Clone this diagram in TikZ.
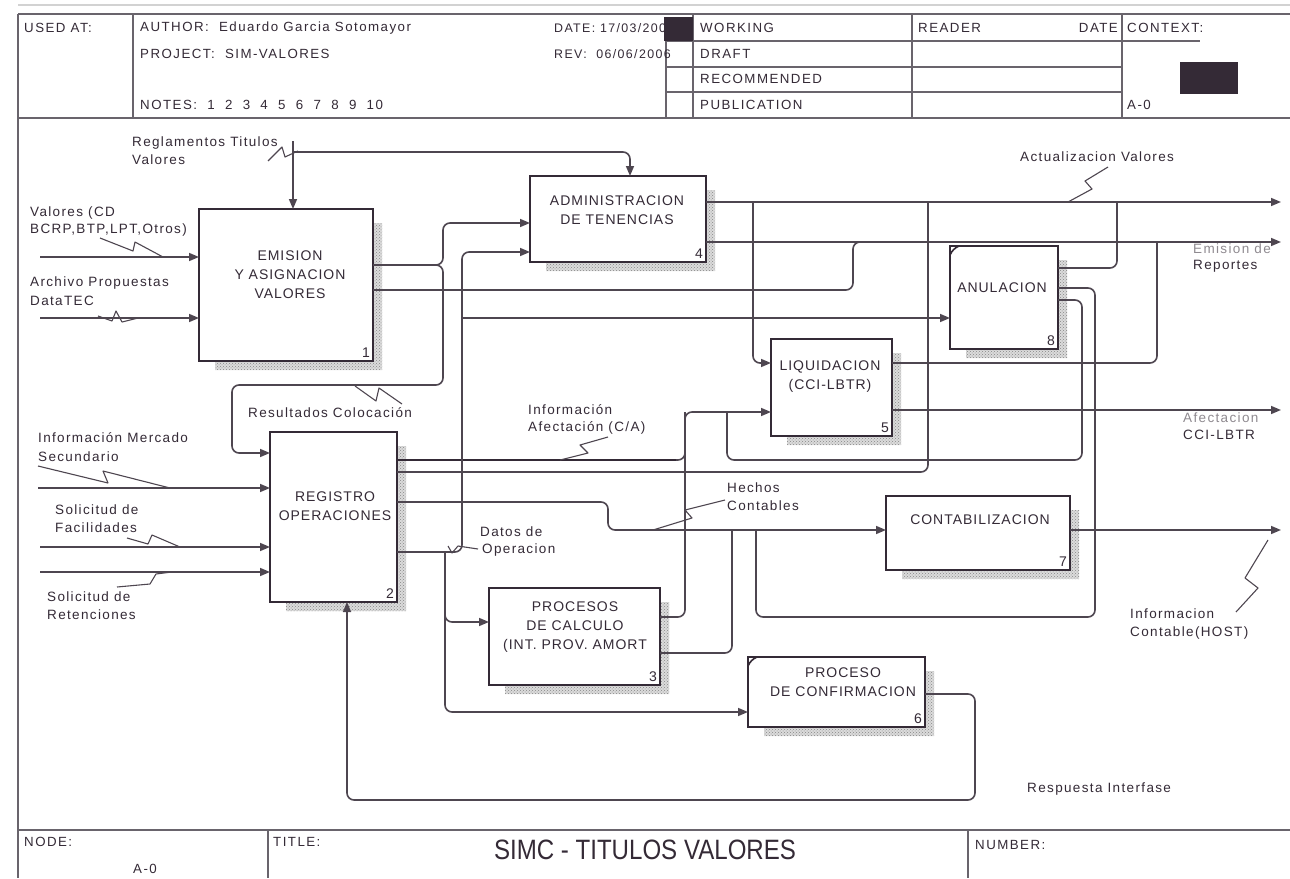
\documentclass[tikz,border=0pt]{standalone}
\usepackage{fontspec}
\setmainfont{Liberation Sans}
\newfontfamily\hdrfont[LetterSpace=11]{Liberation Sans}
\newfontfamily\labfont[LetterSpace=10]{Liberation Sans}
\newfontfamily\boxfont[LetterSpace=7]{Liberation Sans}
\usetikzlibrary{arrows.meta,patterns,calc,backgrounds}
\definecolor{ink}{RGB}{52,42,54}
\definecolor{wirec}{RGB}{78,70,80}
\definecolor{framec}{RGB}{105,100,108}
\tikzset{
  box/.style={draw=ink, line width=2.6pt, fill=white, inner sep=0pt, outer sep=0pt},
  wire/.style={draw=wirec, line width=1.6pt, rounded corners=7pt},
  flow/.style={wire, -{Triangle[length=10pt,width=8pt]}},
  zig/.style={draw=wirec, line width=1.1pt, line join=round},
  lab/.style={anchor=west, inner sep=0pt, text=ink, font=\labfont\fontsize{13.5}{15}\selectfont},
  boxtxt/.style={align=center, inner sep=0pt, text=ink, font=\boxfont\fontsize{14}{19}\selectfont},
  num/.style={anchor=south east, inner sep=0pt, text=ink, font=\fontsize{14}{15}\selectfont},
  hdr/.style={anchor=west, inner sep=0pt, text=ink, font=\hdrfont\fontsize{13.3}{15}\selectfont},
  rule/.style={draw=framec, line width=1.3pt},
  shadowfill/.style={fill=gray!28},
  shadow/.style={pattern=crosshatch dots, pattern color=gray!95},
}
\begin{document}
\begin{tikzpicture}[x=1pt,y=-1pt]
\useasboundingbox (0,0) rectangle (1290,878);

% ---------- header frame ----------
\draw[gray!35, line width=1.5pt] (18,5) -- (1290,5);
\draw[rule] (18,14) -- (1290,14);
\draw[rule] (18,118) -- (1290,118);
\draw[rule] (18,14) -- (18,878);
\draw[rule] (133,14) -- (133,118);
\draw[rule] (666,41) -- (666,118);
\draw[rule] (693,14) -- (693,118);
\draw[rule] (912,14) -- (912,118);
\draw[rule] (1122,14) -- (1122,118);
\foreach \yy in {41,67,92} \draw[rule] (666,\yy) -- (1122,\yy);
\draw[rule] (1122,41) -- (1200,41);

\node[hdr] (usedat) at (24,28) {USED AT:};
\node[hdr] (author) at (140,28) {AUTHOR:\ \ Eduardo Garcia Sotomayor};
\node[hdr] (project) at (140,54) {PROJECT:\ \ SIM-VALORES};
\node[hdr] (notes) at (140,105) {NOTES:\ \ 1\ \ 2\ \ 3\ \ 4\ \ 5\ \ 6\ \ 7\ \ 8\ \ 9\ \ 10};
\node[hdr, font=\hdrfont\fontsize{12.4}{14}\selectfont] (date) at (554,28) {DATE: 17/03/2006};
\node[hdr, font=\hdrfont\fontsize{12.4}{14}\selectfont] (rev) at (554,54) {REV:\ \ 06/06/2006};
\fill[ink] (664,17) rectangle (693,41);
\node[hdr] (working) at (700,28) {WORKING};
\node[hdr] (draft) at (700,54) {DRAFT};
\node[hdr] (recom) at (700,79) {RECOMMENDED};
\node[hdr] (publ) at (700,105) {PUBLICATION};
\node[hdr] (reader) at (918,28) {READER};
\node[hdr, anchor=east] (rdate) at (1118,28) {DATE};
\node[hdr] (context) at (1127,28) {CONTEXT:};
\fill[ink] (1180,62) rectangle (1238,94);
\node[hdr] (ctxnode) at (1127,105) {A-0};

% ---------- footer frame ----------
\draw[rule] (18,830) -- (1290,830);
\draw[rule] (268,830) -- (268,878);
\draw[rule] (968,830) -- (968,878);
\node[hdr] (nodelbl) at (24,842) {NODE:};
\node[hdr] (titlelbl) at (273,842) {TITLE:};
\node[hdr] (numlbl) at (975,845) {NUMBER:};
\node[hdr, anchor=center] (nodeval) at (145,869) {A-0};
\node[inner sep=0pt, text=ink, font=\fontsize{28}{30}\selectfont] (title) at (645,850) {\scalebox{0.86}[1]{SIMC - TITULOS VALORES}};

% ---------- activity boxes ----------
\node[box, minimum width=174pt, minimum height=152pt] (b1) at (286,285) {};
\node[box, minimum width=176pt, minimum height=86pt] (b4) at (618,219) {};
\node[box, minimum width=108pt, minimum height=103pt] (b8) at (1004,297.5) {};
\node[box, minimum width=121pt, minimum height=97pt] (b5) at (831.5,387.5) {};
\node[box, minimum width=127pt, minimum height=170pt] (b2) at (333.5,517) {};
\node[box, minimum width=184pt, minimum height=74pt] (b7) at (978,533) {};
\node[box, minimum width=171pt, minimum height=97pt] (b3) at (574.5,636.5) {};
\node[box, minimum width=177pt, minimum height=70pt] (b6) at (836.5,692) {};

% drop shadows behind the boxes
\begin{scope}[on background layer]
  \fill[white] (0,0) rectangle (1290,878);
  \foreach \b in {b1,b4,b8,b5,b2,b7,b3,b6}{
    \fill[shadowfill] ($(\b.north east)+(-4,14)$) rectangle ($(\b.south east)+(9,9)$)
                  ($(\b.south west)+(16,-4)$) rectangle ($(\b.south east)+(9,9)$);
    \fill[shadow] ($(\b.north east)+(-4,14)$) rectangle ($(\b.south east)+(9,9)$)
                  ($(\b.south west)+(16,-4)$) rectangle ($(\b.south east)+(9,9)$);
  }
\end{scope}

\node[boxtxt] (t1) at (290,275) {EMISION\\Y ASIGNACION\\VALORES};
\node[boxtxt] (t4) at (617,210) {ADMINISTRACION\\DE TENENCIAS};
\node[boxtxt] (t8) at (1002,288) {ANULACION};
\node[boxtxt] (t5) at (830,377) {LIQUIDACION\\(CCI-LBTR)};
\node[boxtxt] (t2) at (335,506) {REGISTRO\\OPERACIONES};
\node[boxtxt] (t7) at (980,520) {CONTABILIZACION};
\node[boxtxt] (t3) at (575,627) {PROCESOS\\DE CALCULO\\(INT. PROV. AMORT};
\node[boxtxt] (t6) at (843,682) {PROCESO\\DE CONFIRMACION};

\node[num] (n1) at ($(b1.south east)+(-3,-3)$) {1};
\node[num] (n4) at ($(b4.south east)+(-3,-3)$) {4};
\node[num] (n8) at ($(b8.south east)+(-3,-3)$) {8};
\node[num] (n5) at ($(b5.south east)+(-3,-3)$) {5};
\node[num] (n2) at ($(b2.south east)+(-3,-3)$) {2};
\node[num] (n7) at ($(b7.south east)+(-3,-3)$) {7};
\node[num] (n3) at ($(b3.south east)+(-3,-3)$) {3};
\node[num] (n6) at ($(b6.south east)+(-3,-3)$) {6};

% corner marks of the leaf activities
\draw[ink, line width=1.6pt] ($(b8.north west)+(0,9)$) to[bend left=20] ($(b8.north west)+(9,0)$);
\draw[ink, line width=1.6pt] ($(b6.north west)+(0,9)$) to[bend left=20] ($(b6.north west)+(9,0)$);

% ---------- controls ----------
\coordinate (rg) at (293,152);
\draw[wire] (293,141) -- (rg);
\draw[flow] (rg) -- (b1.north -| rg);
\draw[flow] (rg) -| (b4.north -| 630,0);

% ---------- external inputs ----------
\coordinate (vin) at (40,257);
\coordinate (ain) at (40,318);
\coordinate (imin) at (38,488);
\coordinate (sfin) at (40,547);
\coordinate (srin) at (40,572);
\draw[flow] (vin) -- (b1.west |- vin);
\draw[flow] (ain) -- (b1.west |- ain);
\draw[flow] (imin) -- (b2.west |- imin);
\draw[flow] (sfin) -- (b2.west |- sfin);
\draw[flow] (srin) -- (b2.west |- srin);

% ---------- outputs of EMISION ----------
\draw[flow] (b1.east |- 0,265) -| (443,223) -- (b4.west |- 0,223);
\draw[flow] (b1.east |- 0,265) -| (443,385) -| (232,453) -- (b2.west |- 0,453);
\draw[wire] (b1.east |- 0,290) -| (853,242) -- (872,242);

% ---------- external outputs ----------
\coordinate (actout) at (1281,202);
\coordinate (repout) at (1281,242);
\coordinate (afout) at (1281,410);
\coordinate (icout) at (1281,530);
\draw[flow] (b4.east |- actout) -- (actout);
\draw[flow] (b4.east |- repout) -- (repout);
\draw[flow] (b5.east |- afout) -- (afout);
\draw[flow] (b7.east |- icout) -- (icout);

% ---------- internal flows ----------
\coordinate (j1) at (753,202);
\draw[flow] (j1) |- (b5.west |- 0,363);
\draw[wire] (b2.east |- 0,472) -| (928,202);
\draw[wire] (b8.east |- 0,268) -| (1117,202);
\draw[wire] (b5.east |- 0,363) -| (1157,242);
\draw[flow] (b2.east |- 0,460) -| (685,412) -- (b5.west |- 0,412);
\draw[draw=ink, line width=2.1pt] (b2.east |- 0,460) -- (676,460);
\draw[wire] (b3.east |- 0,617) -| (685,412);
\draw[wire] (b8.east |- 0,300) -| (1082,460) -| (727,412);
\draw[flow] (b2.east |- 0,502) -| (608,530) -- (b7.west |- 0,530);
\draw[wire] (b3.east |- 0,653) -| (732,530);
\draw[wire] (b8.east |- 0,288) -| (1095,617) -| (756,530);
\draw[flow] (b2.east |- 0,552) -| (462,252) -- (b4.west |- 0,252);
\coordinate (j2) at (462,318);
\draw[flow] (j2) -- (b8.west |- j2);
\coordinate (j3) at (445,552);
\draw[flow] (j3) |- (b3.west |- 0,622);
\draw[flow] (j3) |- (b6.west |- 0,712);
\draw[flow] (b6.east |- 0,694) -| (975,800) -| (b2.south -| 347,0);

% ---------- arrow labels and their squiggles ----------
\node[lab] (lreg) at (132,143) {Reglamentos Titulos};
\node[lab] (lreg2) at (132,160) {Valores};
\draw[zig] (268,161) -- (282,147) -- (285,157) -- (298,151);

\node[lab] (lval) at (30,213) {Valores (CD};
\node[lab] (lval2) at (30,230) {BCRP,BTP,LPT,Otros)};
\draw[zig] (100,238) -- (133,251) -- (135,242) -- (163,257);

\node[lab] (larch) at (30,283) {Archivo Propuestas};
\node[lab] (larch2) at (30,301) {DataTEC};
\draw[zig] (98,316) -- (112,321) -- (116,311) -- (122,322) -- (138,318);

\node[lab] (lres) at (248,413) {Resultados Colocación};
\draw[zig] (355,386) -- (376,401) -- (379,388) -- (402,404);

\node[lab] (lim) at (38,438) {Información Mercado};
\node[lab] (lim2) at (38,457) {Secundario};
\draw[zig] (38,466) -- (108,483) -- (103,471) -- (170,488);

\node[lab] (lsf) at (55,510) {Solicitud de};
\node[lab] (lsf2) at (55,528) {Facilidades};
\draw[zig] (127,538) -- (148,544) -- (152,535) -- (180,547);

\node[lab] (lsr) at (47,597) {Solicitud de};
\node[lab] (lsr2) at (47,615) {Retenciones};
\draw[zig] (117,587) -- (150,584) -- (156,574) -- (172,572);

\node[lab] (lia) at (528,410) {Información};
\node[lab] (lia2) at (528,428) {Afectación (C/A)};
\draw[zig] (608,437) -- (580,445) -- (588,453) -- (560,460);

\node[lab] (ldo) at (480,532) {Datos de};
\node[lab] (ldo2) at (482,550) {Operacion};
\draw[zig] (478,549) -- (458,546) -- (452,553) -- (448,546);

\node[lab] (lhc) at (727,488) {Hechos};
\node[lab] (lhc2) at (727,506) {Contables};
\draw[zig] (725,500) -- (685,510) -- (692,518) -- (653,530);

\node[lab] (lact) at (1020,157) {Actualizacion Valores};
\draw[zig] (1108,167) -- (1085,181) -- (1092,189) -- (1068,202);

\node[lab, text=ink!55] (lrep) at (1193,249) {Emision de};
\node[lab] (lrep2) at (1193,266) {Reportes};

\node[lab, text=ink!55] (laf) at (1183,418) {Afectacion};
\node[lab] (laf2) at (1183,435) {CCI-LBTR};

\node[lab] (lic) at (1130,614) {Informacion};
\node[lab] (lic2) at (1130,633) {Contable(HOST)};
\draw[zig] (1268,540) -- (1245,578) -- (1258,588) -- (1236,612);

\node[lab] (lri) at (1027,789) {Respuesta Interfase};
\end{tikzpicture}
\end{document}
